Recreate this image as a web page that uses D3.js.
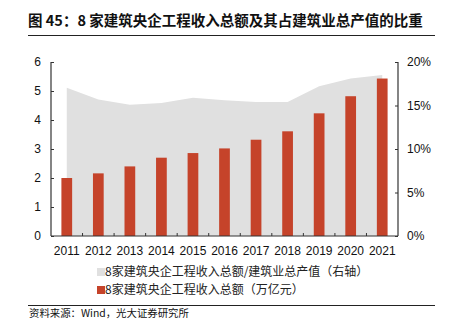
<!DOCTYPE html>
<html>
<head>
<meta charset="utf-8">
<script src="https://cdn.jsdelivr.net/npm/d3@7"></script>
<style>
  html, body { margin: 0; padding: 0; background: #fff; }
  svg { display: block; }
  text { font-family: "Liberation Sans", "Noto Sans CJK SC", sans-serif; }
  .cjk { font-family: "Noto Sans CJK SC", "Liberation Sans", sans-serif; }
</style>
</head>
<body>
<svg id="chart" width="451" height="334"></svg>
<script>
// Years on the category axis
const years = ["2011","2012","2013","2014","2015","2016","2017","2018","2019","2020","2021"];
// Engineering revenue of the 8 central construction SOEs (trillion yuan)
const revenue = [2.00, 2.16, 2.40, 2.70, 2.86, 3.02, 3.32, 3.61, 4.23, 4.82, 5.43];
// Share of total construction output value (%)
const share = [17.05, 15.7, 15.1, 15.3, 15.9, 15.6, 15.4, 15.4, 17.2, 18.1, 18.5];
// Axis tick values
const leftTicks = [0, 1, 2, 3, 4, 5, 6];
const rightTicks = [0, 5, 10, 15, 20];

const titleText = "图 45：8 家建筑央企工程收入总额及其占建筑业总产值的比重";
const legendShare = "8家建筑央企工程收入总额/建筑业总产值（右轴）";
const legendRevenue = "8家建筑央企工程收入总额（万亿元）";
const sourceText = "资料来源：Wind，光大证券研究所";

const svg = d3.select("#chart");
const barColor = "#c5432a";
const areaColor = "#e0e0e0";
const axisColor = "#333";

const plot = { left: 51, right: 398, top: 62, bottom: 236 };

const x = d3.scaleBand().domain(years)
  .range([plot.left, plot.right])
  .paddingInner(0.66).paddingOuter(0.33);
const cx = d => x(d) + x.bandwidth() / 2;
const yL = d3.scaleLinear().domain([0, 6]).range([plot.bottom, plot.top]);
const yR = d3.scaleLinear().domain([0, 20]).range([plot.bottom, plot.top]);

// Title and rule
svg.append("text").attr("class", "cjk")
  .attr("x", 28).attr("y", 26)
  .attr("font-size", 14.5).attr("font-weight", "bold").attr("fill", "#111")
  .text(titleText);
svg.append("line").attr("x1", 28).attr("x2", 435).attr("y1", 35.5).attr("y2", 35.5)
  .attr("stroke", "#222").attr("stroke-width", 1);

// Share area (right axis)
const area = d3.area()
  .x((d, i) => cx(years[i]))
  .y0(yR(0))
  .y1(d => yR(d));
svg.append("path").datum(share)
  .attr("d", area).attr("fill", areaColor);

// Revenue bars (left axis)
svg.append("g").selectAll("rect").data(revenue).join("rect")
  .attr("x", (d, i) => x(years[i]))
  .attr("y", d => yL(d))
  .attr("width", x.bandwidth())
  .attr("height", d => yL(0) - yL(d))
  .attr("fill", barColor);

// Left axis
const gL = svg.append("g").attr("transform", `translate(${plot.left},0)`)
  .call(d3.axisLeft(yL).tickValues(leftTicks).tickSize(-3).tickPadding(10).tickFormat(d3.format("d")));
// Right axis
const gR = svg.append("g").attr("transform", `translate(${plot.right},0)`)
  .call(d3.axisRight(yR).tickValues(rightTicks).tickSize(-3).tickPadding(9).tickFormat(d => d + "%"));
// Bottom axis with ticks between categories
const gB = svg.append("g").attr("transform", `translate(0,${plot.bottom})`)
  .call(d3.axisBottom(x).tickSize(0).tickPadding(10));
const bounds = years.slice(1).map(d => x(d) - x.step() * x.paddingInner() / 2);
gB.selectAll("line.sep").data(bounds).join("line").attr("class", "sep")
  .attr("x1", d => d).attr("x2", d => d).attr("y1", 0).attr("y2", -3)
  .attr("stroke", axisColor);

[gL, gR, gB].forEach(g => {
  g.select(".domain").attr("stroke", axisColor).attr("stroke-width", 1.2);
  g.selectAll(".tick line").attr("stroke", axisColor);
  g.selectAll("text").attr("font-size", 12).attr("fill", "#111")
    .attr("font-family", "Liberation Sans, sans-serif");
});
gB.select(".domain").attr("d", `M${plot.left},0H${plot.right}`);
gL.select(".domain").attr("d", `M0,${plot.top}V${plot.bottom}`);
gR.select(".domain").attr("d", `M0,${plot.top}V${plot.bottom}`);

// Legend
const legend = [
  { label: legendShare, color: areaColor, y: 272 },
  { label: legendRevenue, color: barColor, y: 290 }
];
const lg = svg.append("g").selectAll("g").data(legend).join("g");
lg.append("rect").attr("x", 97).attr("y", d => d.y - 4).attr("width", 8).attr("height", 8)
  .attr("fill", d => d.color);
lg.append("text").attr("class", "cjk").attr("x", 105).attr("y", d => d.y)
  .attr("dy", "0.35em").attr("font-size", 12).attr("fill", "#222")
  .text(d => d.label);

// Source rule and note
svg.append("line").attr("x1", 28).attr("x2", 435).attr("y1", 305.5).attr("y2", 305.5)
  .attr("stroke", "#222").attr("stroke-width", 1);
svg.append("text").attr("class", "cjk")
  .attr("x", 29).attr("y", 313).attr("dy", "0.35em")
  .attr("font-size", 10.4).attr("fill", "#111")
  .text(sourceText);
</script>
</body>
</html>
